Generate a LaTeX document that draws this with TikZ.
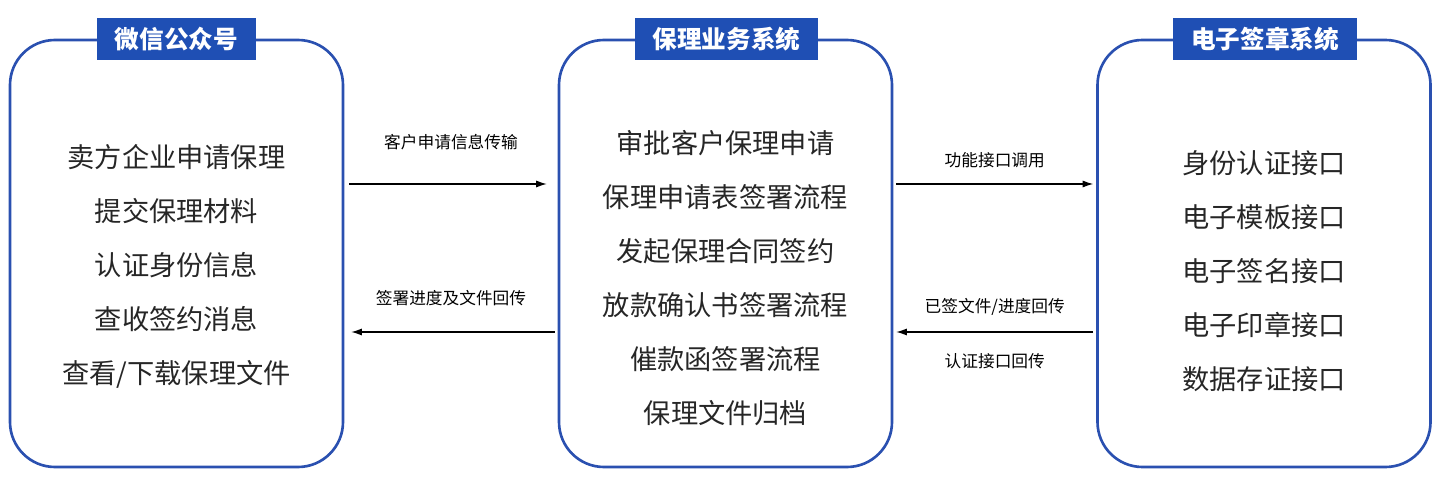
\documentclass[tikz,border=0pt]{standalone}
\usepackage{fontspec}
\setmainfont{Noto Sans CJK SC}
\usetikzlibrary{positioning,arrows.meta}
\definecolor{frameblue}{HTML}{2A50B0}
\definecolor{tagblue}{HTML}{1F4FB4}
\tikzset{
  sysbox/.style={draw=frameblue,line width=1.5pt,rounded corners=0.9cm,minimum width=6.66cm,minimum height=8.54cm},
  systag/.style={fill=tagblue,text=white,font=\bfseries\fontsize{14}{16}\selectfont,inner sep=0pt,minimum height=0.84cm},
  items/.style={align=center,font=\fontsize{15.5}{30.7}\selectfont,text=black!85},
  arr/.style={-{Latex[length=6pt,width=4pt]},line width=0.6pt},
  msg/.style={font=\fontsize{9.5}{11}\selectfont}
}
\begin{document}
\begin{tikzpicture}
  \useasboundingbox (0,0) rectangle (28.84,-9.62);
  % three systems
  \node[sysbox] (wx) at (3.53,-5.07) {};
  \node[sysbox] (bl) at (14.51,-5.07) {};
  \node[sysbox] (es) at (25.28,-5.07) {};
  \node[systag,minimum width=3.18cm] (wxt) at (3.53,-0.78) {微信公众号};
  \node[systag,minimum width=3.66cm] (blt) at (14.53,-0.78) {保理业务系统};
  \node[systag,minimum width=3.68cm] (est) at (25.30,-0.78) {电子签章系统};
  \node[items] (wxi) at (3.53,-5.32) {卖方企业申请保理\\提交保理材料\\认证身份信息\\查收签约消息\\查看/下载保理文件};
  \node[items] (bli) at (14.51,-5.56) {审批客户保理申请\\保理申请表签署流程\\发起保理合同签约\\放款确认书签署流程\\催款函签署流程\\保理文件归档};
  \node[items] (esi) at (25.28,-5.42) {身份认证接口\\电子模板接口\\电子签名接口\\电子印章接口\\数据存证接口};
  % messages
  \draw[arr,shorten <=0.1cm,shorten >=0.22cm] ([yshift=1.39cm]wx.east) -- node[msg,above=0.55cm] {客户申请信息传输} ([yshift=1.39cm]bl.west);
  \draw[arr,shorten <=0.06cm,shorten >=0.14cm] ([yshift=-1.57cm]bl.west) -- node[msg,above=0.4cm] {签署进度及文件回传} ([yshift=-1.57cm]wx.east);
  \draw[arr,shorten <=0.06cm,shorten >=0.06cm] ([yshift=1.39cm]bl.east) -- node[msg,above=0.2cm] {功能接口调用} ([yshift=1.39cm]es.west);
  \draw[arr,shorten <=0.06cm,shorten >=0.06cm] ([yshift=-1.57cm]es.west) -- node[msg,above=0.2cm] {已签文件/进度回传} node[msg,below=0.3cm] {认证接口回传} ([yshift=-1.57cm]bl.east);
\end{tikzpicture}
\end{document}
